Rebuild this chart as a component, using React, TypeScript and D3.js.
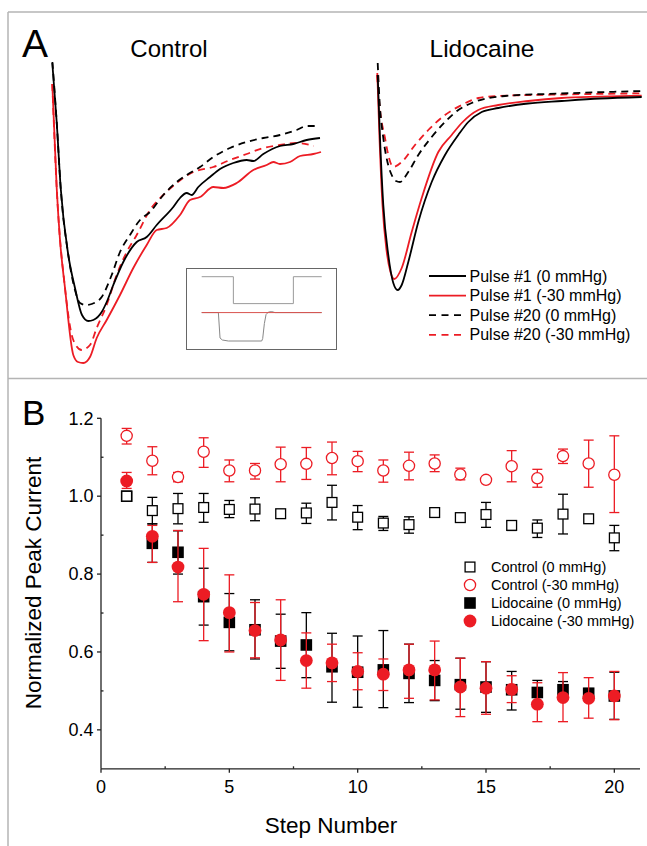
import React from "react";
import * as d3 from "d3";

// ---------- Panel A: current traces (t in ms, I in nA) ----------
const ctlPulse1_0: [number, number][] = [
  [0.03, -0.03], [0.47, -0.62], [0.87, -1.28], [1.63, -1.95], [2.3, -2.28], [3.0, -2.55],
  [3.63, -2.61], [4.13, -2.6], [4.97, -2.52], [5.47, -2.42], [6.13, -2.25], [7.13, -2.02],
  [8.47, -1.82], [9.47, -1.77], [10.47, -1.65], [12.13, -1.47], [12.8, -1.38], [13.47, -1.33],
  [13.97, -1.35], [14.63, -1.27], [15.8, -1.17], [16.8, -1.09], [18.13, -1.03], [19.47, -1.0],
  [20.13, -1.01], [21.13, -0.94], [22.8, -0.86], [24.13, -0.84], [25.47, -0.8], [26.8, -0.78],
];
const ctlPulse1_30: [number, number][] = [
  [0.03, -0.24], [0.47, -1.28], [0.8, -1.8], [1.3, -2.28], [2.13, -2.95], [2.6, -3.02],
  [3.13, -3.03], [3.8, -2.97], [4.47, -2.78], [5.47, -2.6], [6.8, -2.35], [8.13, -2.08],
  [9.47, -1.85], [10.47, -1.7], [11.47, -1.68], [12.8, -1.55], [13.8, -1.4], [14.8, -1.37],
  [16.13, -1.27], [17.13, -1.28], [18.47, -1.23], [20.13, -1.1], [21.47, -1.05], [22.13, -1.02],
  [22.8, -1.04], [23.8, -1.02], [24.8, -0.96], [26.13, -0.94], [26.9, -0.92],
];
const ctlPulse20_0: [number, number][] = [
  [0.04, -0.02], [0.47, -0.62], [0.87, -1.28], [1.63, -1.95], [2.3, -2.3], [2.8, -2.43],
  [3.4, -2.45], [3.97, -2.44], [4.97, -2.37], [5.97, -2.15], [6.8, -1.92], [7.8, -1.75],
  [8.8, -1.6], [9.8, -1.52], [11.13, -1.35], [12.47, -1.22], [13.47, -1.15], [14.8, -1.07],
  [16.13, -0.97], [17.8, -0.88], [19.47, -0.82], [21.13, -0.78], [22.8, -0.75], [24.47, -0.7],
  [25.47, -0.66], [26.36, -0.66],
];
const ctlPulse20_30: [number, number][] = [
  [0.03, -0.24], [0.47, -1.28], [1.3, -2.28], [2.13, -2.8], [2.97, -2.9], [3.8, -2.85],
  [4.47, -2.68], [5.47, -2.45], [6.47, -2.15], [7.47, -1.92], [8.47, -1.75], [9.8, -1.5],
  [11.13, -1.35], [12.47, -1.23], [14.13, -1.12], [16.13, -1.07], [17.8, -1.0], [19.47, -0.94],
  [21.13, -0.88], [22.8, -0.85], [24.47, -0.83], [26.15, -0.86],
];
const lidoPulse1_0: [number, number][] = [
  [0.07, -0.15], [0.3, -0.78], [0.63, -1.45], [1.13, -1.95], [1.63, -2.23], [2.07, -2.3],
  [2.47, -2.25], [3.13, -2.02], [4.13, -1.62], [5.47, -1.22], [6.8, -0.95], [8.13, -0.75],
  [9.13, -0.62], [10.47, -0.52], [12.13, -0.48], [15.1, -0.435], [18.47, -0.41], [22.3, -0.385],
  [26.47, -0.37],
];
const lidoPulse1_30: [number, number][] = [
  [0.03, -0.13], [0.25, -0.78], [0.55, -1.45], [0.95, -1.9], [1.35, -2.12], [1.73, -2.19],
  [2.47, -2.08], [3.47, -1.72], [4.47, -1.38], [6.13, -0.92], [7.47, -0.75], [8.47, -0.63],
  [10.13, -0.5], [12.13, -0.45], [15.13, -0.41], [18.47, -0.38], [22.3, -0.367], [26.47, -0.357],
];
const lidoPulse20_0: [number, number][] = [
  [0.07, -0.03], [0.25, -0.4], [0.63, -0.78], [1.0, -1.0], [1.47, -1.15], [1.9, -1.21],
  [2.3, -1.22], [3.13, -1.12], [4.13, -0.95], [5.47, -0.77], [6.8, -0.62], [8.13, -0.5],
  [9.47, -0.43], [11.13, -0.38], [12.8, -0.36], [18.47, -0.335], [26.47, -0.31],
];
const lidoPulse20_30: [number, number][] = [
  [0.0, -0.15], [0.3, -0.5], [0.8, -0.78], [1.2, -0.98], [1.63, -1.07], [2.47, -1.02],
  [3.8, -0.85], [5.13, -0.7], [6.8, -0.55], [8.47, -0.45], [10.13, -0.38], [12.13, -0.36],
  [18.47, -0.345], [26.47, -0.333],
];

// Inset: voltage protocol (upper) and current (lower), arbitrary units
const insetVoltage: [number, number][] = [
  [0, 0], [9.5, 0], [9.5, -2.7], [27.5, -2.7], [27.5, 0], [36, 0],
];
const insetBaseline: [number, number][] = [[0, -3.6], [36, -3.6]];
const insetCurrent: [number, number][] = [
  [0, -3.6], [5, -3.6], [5.5, -6.15], [6.2, -6.35], [8, -6.45], [18, -6.45], [18.3, -6.2],
  [18.8, -4.7], [19.3, -3.8], [20, -3.55], [21, -3.5], [22, -3.6], [36, -3.6],
];

const legendA = ["Pulse #1 (0 mmHg)", "Pulse #1 (-30 mmHg)", "Pulse #20 (0 mmHg)", "Pulse #20 (-30 mmHg)"];

// ---------- Panel B: normalized peak current ----------
const steps = [1, 2, 3, 4, 5, 6, 7, 8, 9, 10, 11, 12, 13, 14, 15, 16, 17, 18, 19, 20];
const control0 = [1.0, 0.963, 0.968, 0.971, 0.966, 0.967, 0.955, 0.957, 0.984, 0.946, 0.931, 0.927, 0.958, 0.945, 0.953, 0.925, 0.918, 0.954, 0.942, 0.893];
const control0Hi = [1.0, 0.997, 1.007, 1.007, 0.989, 0.996, 0.955, 0.982, 1.028, 0.976, 0.948, 0.947, 0.958, 0.945, 0.984, 0.935, 0.939, 1.005, 0.942, 0.925];
const control0Lo = [1.0, 0.929, 0.929, 0.933, 0.945, 0.937, 0.955, 0.93, 0.939, 0.914, 0.912, 0.905, 0.958, 0.945, 0.92, 0.912, 0.894, 0.903, 0.942, 0.86];
const control30 = [1.155, 1.091, 1.049, 1.114, 1.066, 1.066, 1.082, 1.083, 1.098, 1.09, 1.066, 1.078, 1.084, 1.056, 1.042, 1.077, 1.046, 1.103, 1.084, 1.055];
const control30Hi = [1.174, 1.127, 1.061, 1.15, 1.093, 1.084, 1.126, 1.125, 1.139, 1.115, 1.093, 1.113, 1.106, 1.072, 1.042, 1.117, 1.069, 1.121, 1.144, 1.155];
const control30Lo = [1.134, 1.055, 1.037, 1.074, 1.037, 1.044, 1.037, 1.043, 1.055, 1.063, 1.036, 1.042, 1.063, 1.042, 1.042, 1.037, 1.023, 1.084, 1.023, 0.958];
const lido0 = [1.0, 0.879, 0.856, 0.742, 0.676, 0.657, 0.628, 0.618, 0.562, 0.548, 0.554, 0.545, 0.527, 0.516, 0.51, 0.503, 0.496, 0.503, 0.494, 0.487];
const lido0Hi = [1.0, 0.929, 0.911, 0.815, 0.75, 0.734, 0.697, 0.701, 0.648, 0.641, 0.655, 0.62, 0.578, 0.584, 0.575, 0.55, 0.527, 0.524, 0.506, 0.548];
const lido0Lo = [1.0, 0.83, 0.8, 0.669, 0.603, 0.582, 0.558, 0.534, 0.471, 0.458, 0.457, 0.47, 0.475, 0.453, 0.445, 0.451, 0.464, 0.482, 0.482, 0.427];
const lido30 = [1.039, 0.897, 0.818, 0.748, 0.701, 0.655, 0.631, 0.578, 0.572, 0.55, 0.543, 0.554, 0.554, 0.51, 0.507, 0.504, 0.466, 0.483, 0.481, 0.487];
const lido30Hi = [1.061, 0.925, 0.912, 0.866, 0.798, 0.727, 0.734, 0.649, 0.62, 0.598, 0.582, 0.62, 0.628, 0.584, 0.575, 0.539, 0.521, 0.547, 0.534, 0.55];
const lido30Lo = [1.02, 0.83, 0.729, 0.629, 0.6, 0.585, 0.527, 0.507, 0.524, 0.503, 0.501, 0.481, 0.477, 0.434, 0.44, 0.47, 0.421, 0.421, 0.43, 0.426];

const xTicksB = [0, 5, 10, 15, 20];
const xMinorB = [2.5, 7.5, 12.5, 17.5];
const yTicksB = [0.4, 0.6, 0.8, 1.0, 1.2];
const yMinorB = [0.5, 0.7, 0.9, 1.1];
const legendB = ["Control (0 mmHg)", "Control (-30 mmHg)", "Lidocaine (0 mmHg)", "Lidocaine (-30 mmHg)"];

const RED = "#ec1c24";
const FONT = "'Liberation Sans', Arial, Helvetica, sans-serif";

export default function App() {
  // Panel A scales
  const yA = d3.scaleLinear().domain([0, -3.05]).range([60, 365]);
  const xCtl = d3.scaleLinear().domain([0, 27]).range([52, 322]);
  const xLido = d3.scaleLinear().domain([0, 27]).range([377, 647]);
  const lineCtl = d3.line<[number, number]>().x((d) => xCtl(d[0])).y((d) => yA(d[1])).curve(d3.curveMonotoneX);
  const lineLido = d3.line<[number, number]>().x((d) => xLido(d[0])).y((d) => yA(d[1])).curve(d3.curveMonotoneX);

  const xIn = d3.scaleLinear().domain([0, 36]).range([201.7, 321.7]);
  const yIn = d3.scaleLinear().domain([0, -6.45]).range([276.7, 341]);
  const lineIn = d3.line<[number, number]>().x((d) => xIn(d[0])).y((d) => yIn(d[1]));

  const traceStyles = [
    { stroke: "#000", dash: undefined as string | undefined },
    { stroke: RED, dash: undefined as string | undefined },
    { stroke: "#000", dash: "7,5" },
    { stroke: RED, dash: "7,5" },
  ];
  const ctlTraces = [ctlPulse1_0, ctlPulse1_30, ctlPulse20_0, ctlPulse20_30];
  const lidoTraces = [lidoPulse1_0, lidoPulse1_30, lidoPulse20_0, lidoPulse20_30];
  const drawOrder = [3, 2, 1, 0];

  // Panel B scales
  const xB = d3.scaleLinear().domain([0, 21]).range([101, 640]);
  const yB = d3.scaleLinear().domain([0.3, 1.2]).range([768.8, 418.3]);
  const axisColor = "#222";

  const errBars = (vals: number[], hi: number[], lo: number[], color: string, key: string) =>
    steps.map((s, i) => {
      if (hi[i] - lo[i] < 0.004) return null;
      const x = xB(s);
      return (
        <g key={`${key}${i}`} stroke={color} strokeWidth={1.3}>
          <line x1={x} x2={x} y1={yB(hi[i])} y2={yB(lo[i])} />
          <line x1={x - 5} x2={x + 5} y1={yB(hi[i])} y2={yB(hi[i])} />
          <line x1={x - 5} x2={x + 5} y1={yB(lo[i])} y2={yB(lo[i])} />
        </g>
      );
    });

  const sq = 11;
  const markers = (kind: string, x: number, y: number, key: string) => {
    if (kind === "openSq")
      return <rect key={key} x={x - sq / 2 + 0.6} y={y - sq / 2 + 0.6} width={sq - 1.2} height={sq - 1.2} fill="#fff" stroke="#000" strokeWidth={1.3} />;
    if (kind === "openCirc")
      return <circle key={key} cx={x} cy={y} r={5.6} fill="#fff" stroke={RED} strokeWidth={1.3} />;
    if (kind === "fillSq")
      return <rect key={key} x={x - 5.8} y={y - 5.8} width={11.6} height={11.6} fill="#000" />;
    return <circle key={key} cx={x} cy={y} r={6.4} fill={RED} />;
  };
  const legendKinds = ["openSq", "openCirc", "fillSq", "fillCirc"];

  return (
    <svg width={647} height={846} style={{ position: "absolute", left: 0, top: 0, background: "#fff" }} fontFamily={FONT}>
      {/* frames */}
      <g stroke="#b4b4b4" strokeWidth={1.5} fill="none">
        <line x1={8} x2={647} y1={12} y2={12} />
        <line x1={8} x2={8} y1={12} y2={846} />
        <line x1={8} x2={647} y1={378.5} y2={378.5} />
      </g>

      {/* Panel A */}
      <text x={22} y={56.5} fontSize={39} fill="#000">A</text>
      <text x={169} y={57} fontSize={24} textAnchor="middle" fill="#000">Control</text>
      <text x={482} y={57} fontSize={24.5} textAnchor="middle" fill="#000">Lidocaine</text>

      <g fill="none" strokeWidth={1.8}>
        {drawOrder.map((i) => (
          <path key={`c${i}`} d={lineCtl(ctlTraces[i]) || ""} stroke={traceStyles[i].stroke} strokeDasharray={traceStyles[i].dash} />
        ))}
        {drawOrder.map((i) => (
          <path key={`l${i}`} d={lineLido(lidoTraces[i]) || ""} stroke={traceStyles[i].stroke} strokeDasharray={traceStyles[i].dash} />
        ))}
      </g>

      {/* inset */}
      <rect x={186.5} y={268.5} width={150} height={81} fill="#fff" stroke="#666" strokeWidth={1} />
      <g fill="none" strokeWidth={1}>
        <path d={lineIn(insetVoltage) || ""} stroke="#9a9a9a" />
        <path d={lineIn(insetCurrent) || ""} stroke="#888" />
        <path d={lineIn(insetBaseline) || ""} stroke="#d9534f" />
      </g>

      {/* legend A */}
      {legendA.map((t, i) => {
        const y = 276 + i * 19.6;
        return (
          <g key={t}>
            <line x1={429} x2={466} y1={y} y2={y} stroke={traceStyles[i].stroke} strokeWidth={1.8} strokeDasharray={traceStyles[i].dash ? "7,5.5" : undefined} />
            <text x={469.5} y={y + 5.6} fontSize={16} fill="#000">{t}</text>
          </g>
        );
      })}

      {/* Panel B */}
      <text x={22} y={425} fontSize={35} fill="#000">B</text>

      {/* axes */}
      <g stroke={axisColor} strokeWidth={1.3}>
        <line x1={xB(0)} x2={xB(21)} y1={yB(0.3)} y2={yB(0.3)} />
        <line x1={xB(0)} x2={xB(0)} y1={yB(0.3)} y2={yB(1.2)} />
        {xTicksB.map((t) => (
          <line key={`xt${t}`} x1={xB(t)} x2={xB(t)} y1={yB(0.3)} y2={yB(0.3) + 4} />
        ))}
        {xMinorB.map((t) => (
          <line key={`xm${t}`} x1={xB(t)} x2={xB(t)} y1={yB(0.3)} y2={yB(0.3) - 2.5} />
        ))}
        {yTicksB.map((t) => (
          <line key={`yt${t}`} x1={xB(0) - 4} x2={xB(0)} y1={yB(t)} y2={yB(t)} />
        ))}
        {yMinorB.map((t) => (
          <line key={`ym${t}`} x1={xB(0)} x2={xB(0) + 2.5} y1={yB(t)} y2={yB(t)} />
        ))}
      </g>
      {xTicksB.map((t) => (
        <text key={`xl${t}`} x={xB(t)} y={yB(0.3) + 24.5} fontSize={18} textAnchor="middle" fill="#000">{t}</text>
      ))}
      {yTicksB.map((t) => (
        <text key={`yl${t}`} x={xB(0) - 7.5} y={yB(t) + 6.3} fontSize={18} textAnchor="end" fill="#000">{t.toFixed(1)}</text>
      ))}
      <text x={331} y={833} fontSize={22.5} textAnchor="middle" fill="#000">Step Number</text>
      <text transform="translate(41,583) rotate(-90)" fontSize={22.5} textAnchor="middle" fill="#000">Normalized Peak Current</text>

      {/* data */}
      {errBars(lido0, lido0Hi, lido0Lo, "#000", "e2")}
      {steps.map((s, i) => markers("fillSq", xB(s), yB(lido0[i]), `m2${i}`))}
      {errBars(lido30, lido30Hi, lido30Lo, RED, "e3")}
      {steps.map((s, i) => markers("fillCirc", xB(s), yB(lido30[i]), `m3${i}`))}
      {errBars(control0, control0Hi, control0Lo, "#000", "e0")}
      {steps.map((s, i) => markers("openSq", xB(s), yB(control0[i]), `m0${i}`))}
      {errBars(control30, control30Hi, control30Lo, RED, "e1")}
      {steps.map((s, i) => markers("openCirc", xB(s), yB(control30[i]), `m1${i}`))}

      {/* legend B */}
      {legendB.map((t, i) => {
        const y = 567 + i * 18;
        return (
          <g key={t}>
            {markers(legendKinds[i], 470, y, `lg${i}`)}
            <text x={491} y={y + 5.2} fontSize={14.5} fill="#000">{t}</text>
          </g>
        );
      })}
    </svg>
  );
}
